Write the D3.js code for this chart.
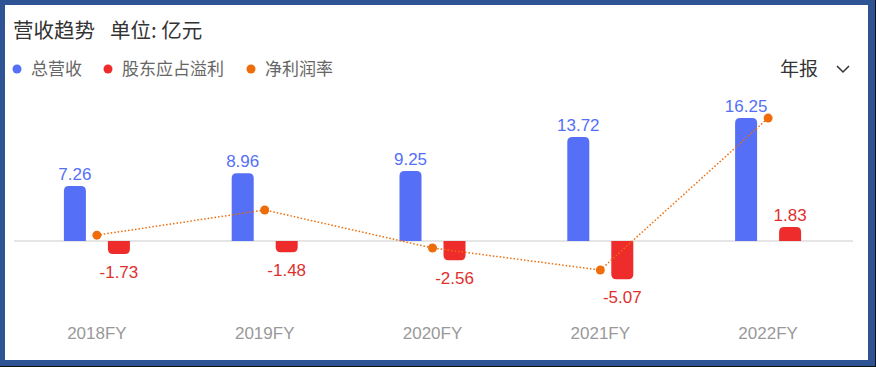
<!DOCTYPE html>
<html>
<head>
<meta charset="utf-8">
<script src="https://cdn.jsdelivr.net/npm/d3@7"></script>
<style>
  html, body { margin: 0; padding: 0; background: #fff; }
  svg { display: block; font-family: "Liberation Sans", Arial, "Noto Sans CJK SC", sans-serif; }
  .cjk { font-family: "Noto Sans CJK SC", "Liberation Sans", sans-serif; }
</style>
</head>
<body>
<svg id="chart" width="876" height="367"></svg>
<script>
  var years = ["2018FY", "2019FY", "2020FY", "2021FY", "2022FY"];
  var revenue = [7.26, 8.96, 9.25, 13.72, 16.25];
  var profit = [-1.73, -1.48, -2.56, -5.07, 1.83];
  var margin = [-25.9, -17.9, -30.0, -37.0, 11.3];
  var legend = ["总营收", "股东应占溢利", "净利润率"];
  var colors = ["#556ff6", "#ee2c2c", "#ee6c0a"];

  var svg = d3.select("#chart");

  // frame
  svg.append("rect").attr("x", 0).attr("y", 0).attr("width", 876).attr("height", 367)
     .attr("fill", "#2f5496");
  svg.append("rect").attr("x", 5).attr("y", 5).attr("width", 863).attr("height", 355)
     .attr("fill", "#fff");
  svg.append("rect").attr("x", 0).attr("y", 366).attr("width", 876).attr("height", 1).attr("fill", "#111");
  svg.append("rect").attr("x", 875).attr("y", 0).attr("width", 1).attr("height", 367).attr("fill", "#111");

  // title
  svg.append("text").attr("class", "cjk").attr("x", 13).attr("y", 38)
     .attr("font-size", 20.5).attr("fill", "#333").text("营收趋势");
  svg.append("text").attr("class", "cjk").attr("x", 110).attr("y", 38)
     .attr("font-size", 20.5).attr("fill", "#333").text("单位: 亿元");

  // legend
  var legX = [17, 108, 251];
  legend.forEach(function (name, i) {
      svg.append("circle").attr("cx", legX[i]).attr("cy", 69).attr("r", 4.5).attr("fill", colors[i]);
      svg.append("text").attr("class", "cjk").attr("x", legX[i] + 14).attr("y", 75)
         .attr("font-size", 17).attr("fill", "#666").text(name);
  });

  // period selector
  svg.append("text").attr("class", "cjk").attr("x", 780).attr("y", 76)
     .attr("font-size", 19).attr("fill", "#333").text("年报");
  svg.append("path").attr("d", "M837,66 L843,72 L849,66")
     .attr("fill", "none").attr("stroke", "#333").attr("stroke-width", 1.5);

  var x = d3.scaleBand().domain(years).range([13, 852]);
  var y = d3.scaleLinear().domain([-6, 18]).range([286.4, 104.7]);
  var y2 = d3.scaleLinear().domain([-40, 20]).range([279.5, 90.7]);
  var barW = 22, off = 22;

  // zero line
  svg.append("line").attr("x1", 14).attr("x2", 853)
     .attr("y1", y(0)).attr("y2", y(0)).attr("stroke", "#dcdcdc").attr("stroke-width", 1.5);

  function barPath(cx, v) {
      var x0 = cx - barW / 2, x1 = cx + barW / 2, y0 = y(0), yv = y(v);
      var r = Math.min(5, Math.abs(yv - y0));
      if (v >= 0) {
          return "M" + x0 + "," + y0 + "V" + (yv + r) + "Q" + x0 + "," + yv + " " + (x0 + r) + "," + yv +
                 "H" + (x1 - r) + "Q" + x1 + "," + yv + " " + x1 + "," + (yv + r) + "V" + y0 + "Z";
      }
      return "M" + x0 + "," + y0 + "V" + (yv - r) + "Q" + x0 + "," + yv + " " + (x0 + r) + "," + yv +
             "H" + (x1 - r) + "Q" + x1 + "," + yv + " " + x1 + "," + (yv - r) + "V" + y0 + "Z";
  }

  var cx = function (d) { return x(d) + x.bandwidth() / 2; };

  [revenue, profit].forEach(function (series, si) {
      var dx = si === 0 ? -off : off;
      svg.append("g").selectAll("path").data(series).enter().append("path")
         .attr("d", function (v, i) { return barPath(cx(years[i]) + dx, v); })
         .attr("fill", colors[si]);
      svg.append("g").selectAll("text").data(series).enter().append("text")
         .attr("x", function (v, i) { return cx(years[i]) + dx; })
         .attr("y", function (v) { return v >= 0 ? y(v) - 6 : y(v) + 24; })
         .attr("text-anchor", "middle").attr("font-size", 17)
         .attr("fill", si === 0 ? "#556ff6" : "#e0302e")
         .text(function (v) { return v.toFixed(2); });
  });

  // margin line
  var line = d3.line().x(function (d, i) { return cx(years[i]); }).y(function (d) { return y2(d); });
  svg.append("path").datum(margin).attr("d", line)
     .attr("fill", "none").attr("stroke", colors[2]).attr("stroke-width", 1.5)
     .attr("stroke-dasharray", "1.5,2");
  svg.append("g").selectAll("circle").data(margin).enter().append("circle")
     .attr("cx", function (d, i) { return cx(years[i]); })
     .attr("cy", function (d) { return y2(d); })
     .attr("r", 4.5).attr("fill", colors[2]);

  // x axis labels
  var axis = d3.axisBottom(x).tickSize(0).tickPadding(0);
  var ax = svg.append("g").attr("transform", "translate(0,327)").call(axis);
  ax.select(".domain").remove();
  ax.selectAll("text").attr("font-size", 17).attr("fill", "#999")
    .attr("font-family", "'Liberation Sans', Arial, sans-serif");
</script>
</body>
</html>
